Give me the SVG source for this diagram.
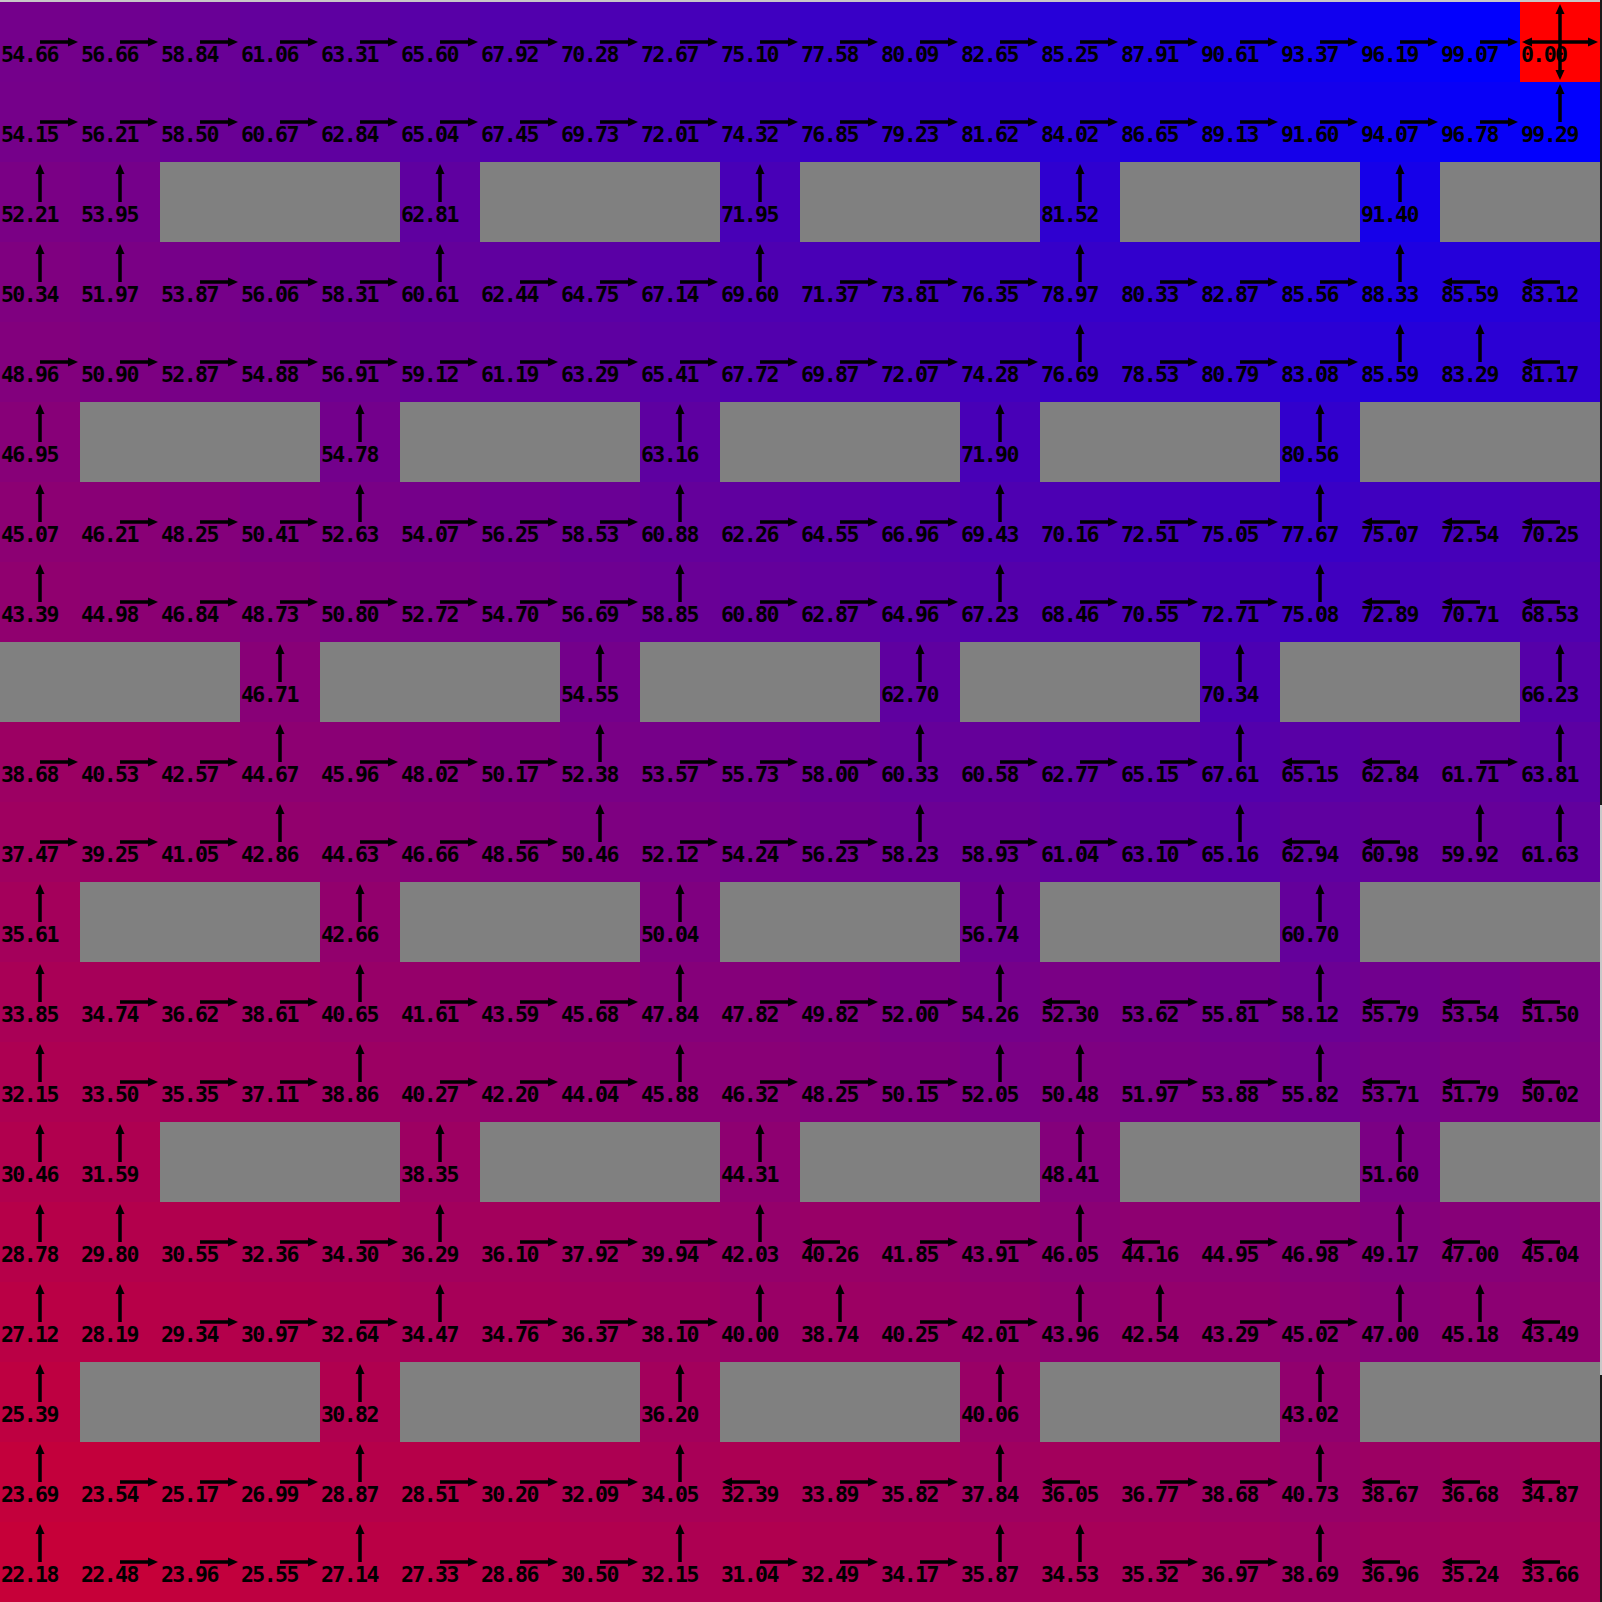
<svg xmlns="http://www.w3.org/2000/svg" xmlns:xlink="http://www.w3.org/1999/xlink" width="1602" height="1602" viewBox="0 0 1602 1602">
<style>
.c rect{fill:#00f;width:80px;height:80px}
text{font-family:"DejaVu Sans Mono","Liberation Mono",monospace;font-weight:bold;font-size:21.5px;letter-spacing:-1.6px;fill:#000}
.w{fill:#808080}
</style>
<defs>
<g id="R"><line x1="0" y1="0" x2="30" y2="0" stroke="#000" stroke-width="3.5"/><path d="M38,0L28,-4.5L28,4.5Z"/></g>
<g id="L"><line x1="0" y1="0" x2="-30" y2="0" stroke="#000" stroke-width="3.5"/><path d="M-38,0L-28,-4.5L-28,4.5Z"/></g>
<g id="U"><line x1="0" y1="0" x2="0" y2="-30" stroke="#000" stroke-width="3.5"/><path d="M0,-38L-4.5,-28L4.5,-28Z"/></g>
<g id="D"><line x1="0" y1="0" x2="0" y2="30" stroke="#000" stroke-width="3.5"/><path d="M0,38L-4.5,28L4.5,28Z"/></g>
</defs>
<rect x="0" y="0" width="1602" height="1602" fill="#c8c8c8"/>
<rect x="1600" y="0" width="2" height="805" fill="#1a1a1a"/>
<rect x="1600" y="1375" width="2" height="227" fill="#1a1a1a"/>
<rect x="0" y="2" width="1600" height="1600" fill="#f00"/>
<g class="c" id="cells">
<g id="n0-0"><rect x="0" y="2" fill-opacity=".5466"/><text x="1" y="62">54.66</text></g>
<g id="n0-1"><rect x="80" y="2" fill-opacity=".5666"/><text x="81" y="62">56.66</text></g>
<g id="n0-2"><rect x="160" y="2" fill-opacity=".5884"/><text x="161" y="62">58.84</text></g>
<g id="n0-3"><rect x="240" y="2" fill-opacity=".6106"/><text x="241" y="62">61.06</text></g>
<g id="n0-4"><rect x="320" y="2" fill-opacity=".6331"/><text x="321" y="62">63.31</text></g>
<g id="n0-5"><rect x="400" y="2" fill-opacity=".6560"/><text x="401" y="62">65.60</text></g>
<g id="n0-6"><rect x="480" y="2" fill-opacity=".6792"/><text x="481" y="62">67.92</text></g>
<g id="n0-7"><rect x="560" y="2" fill-opacity=".7028"/><text x="561" y="62">70.28</text></g>
<g id="n0-8"><rect x="640" y="2" fill-opacity=".7267"/><text x="641" y="62">72.67</text></g>
<g id="n0-9"><rect x="720" y="2" fill-opacity=".7510"/><text x="721" y="62">75.10</text></g>
<g id="n0-10"><rect x="800" y="2" fill-opacity=".7758"/><text x="801" y="62">77.58</text></g>
<g id="n0-11"><rect x="880" y="2" fill-opacity=".8009"/><text x="881" y="62">80.09</text></g>
<g id="n0-12"><rect x="960" y="2" fill-opacity=".8265"/><text x="961" y="62">82.65</text></g>
<g id="n0-13"><rect x="1040" y="2" fill-opacity=".8525"/><text x="1041" y="62">85.25</text></g>
<g id="n0-14"><rect x="1120" y="2" fill-opacity=".8791"/><text x="1121" y="62">87.91</text></g>
<g id="n0-15"><rect x="1200" y="2" fill-opacity=".9061"/><text x="1201" y="62">90.61</text></g>
<g id="n0-16"><rect x="1280" y="2" fill-opacity=".9337"/><text x="1281" y="62">93.37</text></g>
<g id="n0-17"><rect x="1360" y="2" fill-opacity=".9619"/><text x="1361" y="62">96.19</text></g>
<g id="n0-18"><rect x="1440" y="2" fill-opacity=".9907"/><text x="1441" y="62">99.07</text></g>
<g id="n0-19"><rect x="1520" y="2" fill-opacity="0"/><text x="1521" y="62">0.00</text></g>

<g id="n1-0"><rect x="0" y="82" fill-opacity=".5415"/><text x="1" y="142">54.15</text></g>
<g id="n1-1"><rect x="80" y="82" fill-opacity=".5621"/><text x="81" y="142">56.21</text></g>
<g id="n1-2"><rect x="160" y="82" fill-opacity=".5850"/><text x="161" y="142">58.50</text></g>
<g id="n1-3"><rect x="240" y="82" fill-opacity=".6067"/><text x="241" y="142">60.67</text></g>
<g id="n1-4"><rect x="320" y="82" fill-opacity=".6284"/><text x="321" y="142">62.84</text></g>
<g id="n1-5"><rect x="400" y="82" fill-opacity=".6504"/><text x="401" y="142">65.04</text></g>
<g id="n1-6"><rect x="480" y="82" fill-opacity=".6745"/><text x="481" y="142">67.45</text></g>
<g id="n1-7"><rect x="560" y="82" fill-opacity=".6973"/><text x="561" y="142">69.73</text></g>
<g id="n1-8"><rect x="640" y="82" fill-opacity=".7201"/><text x="641" y="142">72.01</text></g>
<g id="n1-9"><rect x="720" y="82" fill-opacity=".7432"/><text x="721" y="142">74.32</text></g>
<g id="n1-10"><rect x="800" y="82" fill-opacity=".7685"/><text x="801" y="142">76.85</text></g>
<g id="n1-11"><rect x="880" y="82" fill-opacity=".7923"/><text x="881" y="142">79.23</text></g>
<g id="n1-12"><rect x="960" y="82" fill-opacity=".8162"/><text x="961" y="142">81.62</text></g>
<g id="n1-13"><rect x="1040" y="82" fill-opacity=".8402"/><text x="1041" y="142">84.02</text></g>
<g id="n1-14"><rect x="1120" y="82" fill-opacity=".8665"/><text x="1121" y="142">86.65</text></g>
<g id="n1-15"><rect x="1200" y="82" fill-opacity=".8913"/><text x="1201" y="142">89.13</text></g>
<g id="n1-16"><rect x="1280" y="82" fill-opacity=".9160"/><text x="1281" y="142">91.60</text></g>
<g id="n1-17"><rect x="1360" y="82" fill-opacity=".9407"/><text x="1361" y="142">94.07</text></g>
<g id="n1-18"><rect x="1440" y="82" fill-opacity=".9678"/><text x="1441" y="142">96.78</text></g>
<g id="n1-19"><rect x="1520" y="82" fill-opacity=".9929"/><text x="1521" y="142">99.29</text></g>

<g id="n2-0"><rect x="0" y="162" fill-opacity=".5221"/><text x="1" y="222">52.21</text></g>
<g id="n2-1"><rect x="80" y="162" fill-opacity=".5395"/><text x="81" y="222">53.95</text></g>
<g id="n2-5"><rect x="400" y="162" fill-opacity=".6281"/><text x="401" y="222">62.81</text></g>
<g id="n2-9"><rect x="720" y="162" fill-opacity=".7195"/><text x="721" y="222">71.95</text></g>
<g id="n2-13"><rect x="1040" y="162" fill-opacity=".8152"/><text x="1041" y="222">81.52</text></g>
<g id="n2-17"><rect x="1360" y="162" fill-opacity=".9140"/><text x="1361" y="222">91.40</text></g>

<g id="n3-0"><rect x="0" y="242" fill-opacity=".5034"/><text x="1" y="302">50.34</text></g>
<g id="n3-1"><rect x="80" y="242" fill-opacity=".5197"/><text x="81" y="302">51.97</text></g>
<g id="n3-2"><rect x="160" y="242" fill-opacity=".5387"/><text x="161" y="302">53.87</text></g>
<g id="n3-3"><rect x="240" y="242" fill-opacity=".5606"/><text x="241" y="302">56.06</text></g>
<g id="n3-4"><rect x="320" y="242" fill-opacity=".5831"/><text x="321" y="302">58.31</text></g>
<g id="n3-5"><rect x="400" y="242" fill-opacity=".6061"/><text x="401" y="302">60.61</text></g>
<g id="n3-6"><rect x="480" y="242" fill-opacity=".6244"/><text x="481" y="302">62.44</text></g>
<g id="n3-7"><rect x="560" y="242" fill-opacity=".6475"/><text x="561" y="302">64.75</text></g>
<g id="n3-8"><rect x="640" y="242" fill-opacity=".6714"/><text x="641" y="302">67.14</text></g>
<g id="n3-9"><rect x="720" y="242" fill-opacity=".6960"/><text x="721" y="302">69.60</text></g>
<g id="n3-10"><rect x="800" y="242" fill-opacity=".7137"/><text x="801" y="302">71.37</text></g>
<g id="n3-11"><rect x="880" y="242" fill-opacity=".7381"/><text x="881" y="302">73.81</text></g>
<g id="n3-12"><rect x="960" y="242" fill-opacity=".7635"/><text x="961" y="302">76.35</text></g>
<g id="n3-13"><rect x="1040" y="242" fill-opacity=".7897"/><text x="1041" y="302">78.97</text></g>
<g id="n3-14"><rect x="1120" y="242" fill-opacity=".8033"/><text x="1121" y="302">80.33</text></g>
<g id="n3-15"><rect x="1200" y="242" fill-opacity=".8287"/><text x="1201" y="302">82.87</text></g>
<g id="n3-16"><rect x="1280" y="242" fill-opacity=".8556"/><text x="1281" y="302">85.56</text></g>
<g id="n3-17"><rect x="1360" y="242" fill-opacity=".8833"/><text x="1361" y="302">88.33</text></g>
<g id="n3-18"><rect x="1440" y="242" fill-opacity=".8559"/><text x="1441" y="302">85.59</text></g>
<g id="n3-19"><rect x="1520" y="242" fill-opacity=".8312"/><text x="1521" y="302">83.12</text></g>

<g id="n4-0"><rect x="0" y="322" fill-opacity=".4896"/><text x="1" y="382">48.96</text></g>
<g id="n4-1"><rect x="80" y="322" fill-opacity=".5090"/><text x="81" y="382">50.90</text></g>
<g id="n4-2"><rect x="160" y="322" fill-opacity=".5287"/><text x="161" y="382">52.87</text></g>
<g id="n4-3"><rect x="240" y="322" fill-opacity=".5488"/><text x="241" y="382">54.88</text></g>
<g id="n4-4"><rect x="320" y="322" fill-opacity=".5691"/><text x="321" y="382">56.91</text></g>
<g id="n4-5"><rect x="400" y="322" fill-opacity=".5912"/><text x="401" y="382">59.12</text></g>
<g id="n4-6"><rect x="480" y="322" fill-opacity=".6119"/><text x="481" y="382">61.19</text></g>
<g id="n4-7"><rect x="560" y="322" fill-opacity=".6329"/><text x="561" y="382">63.29</text></g>
<g id="n4-8"><rect x="640" y="322" fill-opacity=".6541"/><text x="641" y="382">65.41</text></g>
<g id="n4-9"><rect x="720" y="322" fill-opacity=".6772"/><text x="721" y="382">67.72</text></g>
<g id="n4-10"><rect x="800" y="322" fill-opacity=".6987"/><text x="801" y="382">69.87</text></g>
<g id="n4-11"><rect x="880" y="322" fill-opacity=".7207"/><text x="881" y="382">72.07</text></g>
<g id="n4-12"><rect x="960" y="322" fill-opacity=".7428"/><text x="961" y="382">74.28</text></g>
<g id="n4-13"><rect x="1040" y="322" fill-opacity=".7669"/><text x="1041" y="382">76.69</text></g>
<g id="n4-14"><rect x="1120" y="322" fill-opacity=".7853"/><text x="1121" y="382">78.53</text></g>
<g id="n4-15"><rect x="1200" y="322" fill-opacity=".8079"/><text x="1201" y="382">80.79</text></g>
<g id="n4-16"><rect x="1280" y="322" fill-opacity=".8308"/><text x="1281" y="382">83.08</text></g>
<g id="n4-17"><rect x="1360" y="322" fill-opacity=".8559"/><text x="1361" y="382">85.59</text></g>
<g id="n4-18"><rect x="1440" y="322" fill-opacity=".8329"/><text x="1441" y="382">83.29</text></g>
<g id="n4-19"><rect x="1520" y="322" fill-opacity=".8117"/><text x="1521" y="382">81.17</text></g>

<g id="n5-0"><rect x="0" y="402" fill-opacity=".4695"/><text x="1" y="462">46.95</text></g>
<g id="n5-4"><rect x="320" y="402" fill-opacity=".5478"/><text x="321" y="462">54.78</text></g>
<g id="n5-8"><rect x="640" y="402" fill-opacity=".6316"/><text x="641" y="462">63.16</text></g>
<g id="n5-12"><rect x="960" y="402" fill-opacity=".7190"/><text x="961" y="462">71.90</text></g>
<g id="n5-16"><rect x="1280" y="402" fill-opacity=".8056"/><text x="1281" y="462">80.56</text></g>

<g id="n6-0"><rect x="0" y="482" fill-opacity=".4507"/><text x="1" y="542">45.07</text></g>
<g id="n6-1"><rect x="80" y="482" fill-opacity=".4621"/><text x="81" y="542">46.21</text></g>
<g id="n6-2"><rect x="160" y="482" fill-opacity=".4825"/><text x="161" y="542">48.25</text></g>
<g id="n6-3"><rect x="240" y="482" fill-opacity=".5041"/><text x="241" y="542">50.41</text></g>
<g id="n6-4"><rect x="320" y="482" fill-opacity=".5263"/><text x="321" y="542">52.63</text></g>
<g id="n6-5"><rect x="400" y="482" fill-opacity=".5407"/><text x="401" y="542">54.07</text></g>
<g id="n6-6"><rect x="480" y="482" fill-opacity=".5625"/><text x="481" y="542">56.25</text></g>
<g id="n6-7"><rect x="560" y="482" fill-opacity=".5853"/><text x="561" y="542">58.53</text></g>
<g id="n6-8"><rect x="640" y="482" fill-opacity=".6088"/><text x="641" y="542">60.88</text></g>
<g id="n6-9"><rect x="720" y="482" fill-opacity=".6226"/><text x="721" y="542">62.26</text></g>
<g id="n6-10"><rect x="800" y="482" fill-opacity=".6455"/><text x="801" y="542">64.55</text></g>
<g id="n6-11"><rect x="880" y="482" fill-opacity=".6696"/><text x="881" y="542">66.96</text></g>
<g id="n6-12"><rect x="960" y="482" fill-opacity=".6943"/><text x="961" y="542">69.43</text></g>
<g id="n6-13"><rect x="1040" y="482" fill-opacity=".7016"/><text x="1041" y="542">70.16</text></g>
<g id="n6-14"><rect x="1120" y="482" fill-opacity=".7251"/><text x="1121" y="542">72.51</text></g>
<g id="n6-15"><rect x="1200" y="482" fill-opacity=".7505"/><text x="1201" y="542">75.05</text></g>
<g id="n6-16"><rect x="1280" y="482" fill-opacity=".7767"/><text x="1281" y="542">77.67</text></g>
<g id="n6-17"><rect x="1360" y="482" fill-opacity=".7507"/><text x="1361" y="542">75.07</text></g>
<g id="n6-18"><rect x="1440" y="482" fill-opacity=".7254"/><text x="1441" y="542">72.54</text></g>
<g id="n6-19"><rect x="1520" y="482" fill-opacity=".7025"/><text x="1521" y="542">70.25</text></g>

<g id="n7-0"><rect x="0" y="562" fill-opacity=".4339"/><text x="1" y="622">43.39</text></g>
<g id="n7-1"><rect x="80" y="562" fill-opacity=".4498"/><text x="81" y="622">44.98</text></g>
<g id="n7-2"><rect x="160" y="562" fill-opacity=".4684"/><text x="161" y="622">46.84</text></g>
<g id="n7-3"><rect x="240" y="562" fill-opacity=".4873"/><text x="241" y="622">48.73</text></g>
<g id="n7-4"><rect x="320" y="562" fill-opacity=".5080"/><text x="321" y="622">50.80</text></g>
<g id="n7-5"><rect x="400" y="562" fill-opacity=".5272"/><text x="401" y="622">52.72</text></g>
<g id="n7-6"><rect x="480" y="562" fill-opacity=".5470"/><text x="481" y="622">54.70</text></g>
<g id="n7-7"><rect x="560" y="562" fill-opacity=".5669"/><text x="561" y="622">56.69</text></g>
<g id="n7-8"><rect x="640" y="562" fill-opacity=".5885"/><text x="641" y="622">58.85</text></g>
<g id="n7-9"><rect x="720" y="562" fill-opacity=".6080"/><text x="721" y="622">60.80</text></g>
<g id="n7-10"><rect x="800" y="562" fill-opacity=".6287"/><text x="801" y="622">62.87</text></g>
<g id="n7-11"><rect x="880" y="562" fill-opacity=".6496"/><text x="881" y="622">64.96</text></g>
<g id="n7-12"><rect x="960" y="562" fill-opacity=".6723"/><text x="961" y="622">67.23</text></g>
<g id="n7-13"><rect x="1040" y="562" fill-opacity=".6846"/><text x="1041" y="622">68.46</text></g>
<g id="n7-14"><rect x="1120" y="562" fill-opacity=".7055"/><text x="1121" y="622">70.55</text></g>
<g id="n7-15"><rect x="1200" y="562" fill-opacity=".7271"/><text x="1201" y="622">72.71</text></g>
<g id="n7-16"><rect x="1280" y="562" fill-opacity=".7508"/><text x="1281" y="622">75.08</text></g>
<g id="n7-17"><rect x="1360" y="562" fill-opacity=".7289"/><text x="1361" y="622">72.89</text></g>
<g id="n7-18"><rect x="1440" y="562" fill-opacity=".7071"/><text x="1441" y="622">70.71</text></g>
<g id="n7-19"><rect x="1520" y="562" fill-opacity=".6853"/><text x="1521" y="622">68.53</text></g>

<g id="n8-3"><rect x="240" y="642" fill-opacity=".4671"/><text x="241" y="702">46.71</text></g>
<g id="n8-7"><rect x="560" y="642" fill-opacity=".5455"/><text x="561" y="702">54.55</text></g>
<g id="n8-11"><rect x="880" y="642" fill-opacity=".6270"/><text x="881" y="702">62.70</text></g>
<g id="n8-15"><rect x="1200" y="642" fill-opacity=".7034"/><text x="1201" y="702">70.34</text></g>
<g id="n8-19"><rect x="1520" y="642" fill-opacity=".6623"/><text x="1521" y="702">66.23</text></g>

<g id="n9-0"><rect x="0" y="722" fill-opacity=".3868"/><text x="1" y="782">38.68</text></g>
<g id="n9-1"><rect x="80" y="722" fill-opacity=".4053"/><text x="81" y="782">40.53</text></g>
<g id="n9-2"><rect x="160" y="722" fill-opacity=".4257"/><text x="161" y="782">42.57</text></g>
<g id="n9-3"><rect x="240" y="722" fill-opacity=".4467"/><text x="241" y="782">44.67</text></g>
<g id="n9-4"><rect x="320" y="722" fill-opacity=".4596"/><text x="321" y="782">45.96</text></g>
<g id="n9-5"><rect x="400" y="722" fill-opacity=".4802"/><text x="401" y="782">48.02</text></g>
<g id="n9-6"><rect x="480" y="722" fill-opacity=".5017"/><text x="481" y="782">50.17</text></g>
<g id="n9-7"><rect x="560" y="722" fill-opacity=".5238"/><text x="561" y="782">52.38</text></g>
<g id="n9-8"><rect x="640" y="722" fill-opacity=".5357"/><text x="641" y="782">53.57</text></g>
<g id="n9-9"><rect x="720" y="722" fill-opacity=".5573"/><text x="721" y="782">55.73</text></g>
<g id="n9-10"><rect x="800" y="722" fill-opacity=".5800"/><text x="801" y="782">58.00</text></g>
<g id="n9-11"><rect x="880" y="722" fill-opacity=".6033"/><text x="881" y="782">60.33</text></g>
<g id="n9-12"><rect x="960" y="722" fill-opacity=".6058"/><text x="961" y="782">60.58</text></g>
<g id="n9-13"><rect x="1040" y="722" fill-opacity=".6277"/><text x="1041" y="782">62.77</text></g>
<g id="n9-14"><rect x="1120" y="722" fill-opacity=".6515"/><text x="1121" y="782">65.15</text></g>
<g id="n9-15"><rect x="1200" y="722" fill-opacity=".6761"/><text x="1201" y="782">67.61</text></g>
<g id="n9-16"><rect x="1280" y="722" fill-opacity=".6515"/><text x="1281" y="782">65.15</text></g>
<g id="n9-17"><rect x="1360" y="722" fill-opacity=".6284"/><text x="1361" y="782">62.84</text></g>
<g id="n9-18"><rect x="1440" y="722" fill-opacity=".6171"/><text x="1441" y="782">61.71</text></g>
<g id="n9-19"><rect x="1520" y="722" fill-opacity=".6381"/><text x="1521" y="782">63.81</text></g>

<g id="n10-0"><rect x="0" y="802" fill-opacity=".3747"/><text x="1" y="862">37.47</text></g>
<g id="n10-1"><rect x="80" y="802" fill-opacity=".3925"/><text x="81" y="862">39.25</text></g>
<g id="n10-2"><rect x="160" y="802" fill-opacity=".4105"/><text x="161" y="862">41.05</text></g>
<g id="n10-3"><rect x="240" y="802" fill-opacity=".4286"/><text x="241" y="862">42.86</text></g>
<g id="n10-4"><rect x="320" y="802" fill-opacity=".4463"/><text x="321" y="862">44.63</text></g>
<g id="n10-5"><rect x="400" y="802" fill-opacity=".4666"/><text x="401" y="862">46.66</text></g>
<g id="n10-6"><rect x="480" y="802" fill-opacity=".4856"/><text x="481" y="862">48.56</text></g>
<g id="n10-7"><rect x="560" y="802" fill-opacity=".5046"/><text x="561" y="862">50.46</text></g>
<g id="n10-8"><rect x="640" y="802" fill-opacity=".5212"/><text x="641" y="862">52.12</text></g>
<g id="n10-9"><rect x="720" y="802" fill-opacity=".5424"/><text x="721" y="862">54.24</text></g>
<g id="n10-10"><rect x="800" y="802" fill-opacity=".5623"/><text x="801" y="862">56.23</text></g>
<g id="n10-11"><rect x="880" y="802" fill-opacity=".5823"/><text x="881" y="862">58.23</text></g>
<g id="n10-12"><rect x="960" y="802" fill-opacity=".5893"/><text x="961" y="862">58.93</text></g>
<g id="n10-13"><rect x="1040" y="802" fill-opacity=".6104"/><text x="1041" y="862">61.04</text></g>
<g id="n10-14"><rect x="1120" y="802" fill-opacity=".6310"/><text x="1121" y="862">63.10</text></g>
<g id="n10-15"><rect x="1200" y="802" fill-opacity=".6516"/><text x="1201" y="862">65.16</text></g>
<g id="n10-16"><rect x="1280" y="802" fill-opacity=".6294"/><text x="1281" y="862">62.94</text></g>
<g id="n10-17"><rect x="1360" y="802" fill-opacity=".6098"/><text x="1361" y="862">60.98</text></g>
<g id="n10-18"><rect x="1440" y="802" fill-opacity=".5992"/><text x="1441" y="862">59.92</text></g>
<g id="n10-19"><rect x="1520" y="802" fill-opacity=".6163"/><text x="1521" y="862">61.63</text></g>

<g id="n11-0"><rect x="0" y="882" fill-opacity=".3561"/><text x="1" y="942">35.61</text></g>
<g id="n11-4"><rect x="320" y="882" fill-opacity=".4266"/><text x="321" y="942">42.66</text></g>
<g id="n11-8"><rect x="640" y="882" fill-opacity=".5004"/><text x="641" y="942">50.04</text></g>
<g id="n11-12"><rect x="960" y="882" fill-opacity=".5674"/><text x="961" y="942">56.74</text></g>
<g id="n11-16"><rect x="1280" y="882" fill-opacity=".6070"/><text x="1281" y="942">60.70</text></g>

<g id="n12-0"><rect x="0" y="962" fill-opacity=".3385"/><text x="1" y="1022">33.85</text></g>
<g id="n12-1"><rect x="80" y="962" fill-opacity=".3474"/><text x="81" y="1022">34.74</text></g>
<g id="n12-2"><rect x="160" y="962" fill-opacity=".3662"/><text x="161" y="1022">36.62</text></g>
<g id="n12-3"><rect x="240" y="962" fill-opacity=".3861"/><text x="241" y="1022">38.61</text></g>
<g id="n12-4"><rect x="320" y="962" fill-opacity=".4065"/><text x="321" y="1022">40.65</text></g>
<g id="n12-5"><rect x="400" y="962" fill-opacity=".4161"/><text x="401" y="1022">41.61</text></g>
<g id="n12-6"><rect x="480" y="962" fill-opacity=".4359"/><text x="481" y="1022">43.59</text></g>
<g id="n12-7"><rect x="560" y="962" fill-opacity=".4568"/><text x="561" y="1022">45.68</text></g>
<g id="n12-8"><rect x="640" y="962" fill-opacity=".4784"/><text x="641" y="1022">47.84</text></g>
<g id="n12-9"><rect x="720" y="962" fill-opacity=".4782"/><text x="721" y="1022">47.82</text></g>
<g id="n12-10"><rect x="800" y="962" fill-opacity=".4982"/><text x="801" y="1022">49.82</text></g>
<g id="n12-11"><rect x="880" y="962" fill-opacity=".5200"/><text x="881" y="1022">52.00</text></g>
<g id="n12-12"><rect x="960" y="962" fill-opacity=".5426"/><text x="961" y="1022">54.26</text></g>
<g id="n12-13"><rect x="1040" y="962" fill-opacity=".5230"/><text x="1041" y="1022">52.30</text></g>
<g id="n12-14"><rect x="1120" y="962" fill-opacity=".5362"/><text x="1121" y="1022">53.62</text></g>
<g id="n12-15"><rect x="1200" y="962" fill-opacity=".5581"/><text x="1201" y="1022">55.81</text></g>
<g id="n12-16"><rect x="1280" y="962" fill-opacity=".5812"/><text x="1281" y="1022">58.12</text></g>
<g id="n12-17"><rect x="1360" y="962" fill-opacity=".5579"/><text x="1361" y="1022">55.79</text></g>
<g id="n12-18"><rect x="1440" y="962" fill-opacity=".5354"/><text x="1441" y="1022">53.54</text></g>
<g id="n12-19"><rect x="1520" y="962" fill-opacity=".5150"/><text x="1521" y="1022">51.50</text></g>

<g id="n13-0"><rect x="0" y="1042" fill-opacity=".3215"/><text x="1" y="1102">32.15</text></g>
<g id="n13-1"><rect x="80" y="1042" fill-opacity=".3350"/><text x="81" y="1102">33.50</text></g>
<g id="n13-2"><rect x="160" y="1042" fill-opacity=".3535"/><text x="161" y="1102">35.35</text></g>
<g id="n13-3"><rect x="240" y="1042" fill-opacity=".3711"/><text x="241" y="1102">37.11</text></g>
<g id="n13-4"><rect x="320" y="1042" fill-opacity=".3886"/><text x="321" y="1102">38.86</text></g>
<g id="n13-5"><rect x="400" y="1042" fill-opacity=".4027"/><text x="401" y="1102">40.27</text></g>
<g id="n13-6"><rect x="480" y="1042" fill-opacity=".4220"/><text x="481" y="1102">42.20</text></g>
<g id="n13-7"><rect x="560" y="1042" fill-opacity=".4404"/><text x="561" y="1102">44.04</text></g>
<g id="n13-8"><rect x="640" y="1042" fill-opacity=".4588"/><text x="641" y="1102">45.88</text></g>
<g id="n13-9"><rect x="720" y="1042" fill-opacity=".4632"/><text x="721" y="1102">46.32</text></g>
<g id="n13-10"><rect x="800" y="1042" fill-opacity=".4825"/><text x="801" y="1102">48.25</text></g>
<g id="n13-11"><rect x="880" y="1042" fill-opacity=".5015"/><text x="881" y="1102">50.15</text></g>
<g id="n13-12"><rect x="960" y="1042" fill-opacity=".5205"/><text x="961" y="1102">52.05</text></g>
<g id="n13-13"><rect x="1040" y="1042" fill-opacity=".5048"/><text x="1041" y="1102">50.48</text></g>
<g id="n13-14"><rect x="1120" y="1042" fill-opacity=".5197"/><text x="1121" y="1102">51.97</text></g>
<g id="n13-15"><rect x="1200" y="1042" fill-opacity=".5388"/><text x="1201" y="1102">53.88</text></g>
<g id="n13-16"><rect x="1280" y="1042" fill-opacity=".5582"/><text x="1281" y="1102">55.82</text></g>
<g id="n13-17"><rect x="1360" y="1042" fill-opacity=".5371"/><text x="1361" y="1102">53.71</text></g>
<g id="n13-18"><rect x="1440" y="1042" fill-opacity=".5179"/><text x="1441" y="1102">51.79</text></g>
<g id="n13-19"><rect x="1520" y="1042" fill-opacity=".5002"/><text x="1521" y="1102">50.02</text></g>

<g id="n14-0"><rect x="0" y="1122" fill-opacity=".3046"/><text x="1" y="1182">30.46</text></g>
<g id="n14-1"><rect x="80" y="1122" fill-opacity=".3159"/><text x="81" y="1182">31.59</text></g>
<g id="n14-5"><rect x="400" y="1122" fill-opacity=".3835"/><text x="401" y="1182">38.35</text></g>
<g id="n14-9"><rect x="720" y="1122" fill-opacity=".4431"/><text x="721" y="1182">44.31</text></g>
<g id="n14-13"><rect x="1040" y="1122" fill-opacity=".4841"/><text x="1041" y="1182">48.41</text></g>
<g id="n14-17"><rect x="1360" y="1122" fill-opacity=".5160"/><text x="1361" y="1182">51.60</text></g>

<g id="n15-0"><rect x="0" y="1202" fill-opacity=".2878"/><text x="1" y="1262">28.78</text></g>
<g id="n15-1"><rect x="80" y="1202" fill-opacity=".2980"/><text x="81" y="1262">29.80</text></g>
<g id="n15-2"><rect x="160" y="1202" fill-opacity=".3055"/><text x="161" y="1262">30.55</text></g>
<g id="n15-3"><rect x="240" y="1202" fill-opacity=".3236"/><text x="241" y="1262">32.36</text></g>
<g id="n15-4"><rect x="320" y="1202" fill-opacity=".3430"/><text x="321" y="1262">34.30</text></g>
<g id="n15-5"><rect x="400" y="1202" fill-opacity=".3629"/><text x="401" y="1262">36.29</text></g>
<g id="n15-6"><rect x="480" y="1202" fill-opacity=".3610"/><text x="481" y="1262">36.10</text></g>
<g id="n15-7"><rect x="560" y="1202" fill-opacity=".3792"/><text x="561" y="1262">37.92</text></g>
<g id="n15-8"><rect x="640" y="1202" fill-opacity=".3994"/><text x="641" y="1262">39.94</text></g>
<g id="n15-9"><rect x="720" y="1202" fill-opacity=".4203"/><text x="721" y="1262">42.03</text></g>
<g id="n15-10"><rect x="800" y="1202" fill-opacity=".4026"/><text x="801" y="1262">40.26</text></g>
<g id="n15-11"><rect x="880" y="1202" fill-opacity=".4185"/><text x="881" y="1262">41.85</text></g>
<g id="n15-12"><rect x="960" y="1202" fill-opacity=".4391"/><text x="961" y="1262">43.91</text></g>
<g id="n15-13"><rect x="1040" y="1202" fill-opacity=".4605"/><text x="1041" y="1262">46.05</text></g>
<g id="n15-14"><rect x="1120" y="1202" fill-opacity=".4416"/><text x="1121" y="1262">44.16</text></g>
<g id="n15-15"><rect x="1200" y="1202" fill-opacity=".4495"/><text x="1201" y="1262">44.95</text></g>
<g id="n15-16"><rect x="1280" y="1202" fill-opacity=".4698"/><text x="1281" y="1262">46.98</text></g>
<g id="n15-17"><rect x="1360" y="1202" fill-opacity=".4917"/><text x="1361" y="1262">49.17</text></g>
<g id="n15-18"><rect x="1440" y="1202" fill-opacity=".4700"/><text x="1441" y="1262">47.00</text></g>
<g id="n15-19"><rect x="1520" y="1202" fill-opacity=".4504"/><text x="1521" y="1262">45.04</text></g>

<g id="n16-0"><rect x="0" y="1282" fill-opacity=".2712"/><text x="1" y="1342">27.12</text></g>
<g id="n16-1"><rect x="80" y="1282" fill-opacity=".2819"/><text x="81" y="1342">28.19</text></g>
<g id="n16-2"><rect x="160" y="1282" fill-opacity=".2934"/><text x="161" y="1342">29.34</text></g>
<g id="n16-3"><rect x="240" y="1282" fill-opacity=".3097"/><text x="241" y="1342">30.97</text></g>
<g id="n16-4"><rect x="320" y="1282" fill-opacity=".3264"/><text x="321" y="1342">32.64</text></g>
<g id="n16-5"><rect x="400" y="1282" fill-opacity=".3447"/><text x="401" y="1342">34.47</text></g>
<g id="n16-6"><rect x="480" y="1282" fill-opacity=".3476"/><text x="481" y="1342">34.76</text></g>
<g id="n16-7"><rect x="560" y="1282" fill-opacity=".3637"/><text x="561" y="1342">36.37</text></g>
<g id="n16-8"><rect x="640" y="1282" fill-opacity=".3810"/><text x="641" y="1342">38.10</text></g>
<g id="n16-9"><rect x="720" y="1282" fill-opacity=".4000"/><text x="721" y="1342">40.00</text></g>
<g id="n16-10"><rect x="800" y="1282" fill-opacity=".3874"/><text x="801" y="1342">38.74</text></g>
<g id="n16-11"><rect x="880" y="1282" fill-opacity=".4025"/><text x="881" y="1342">40.25</text></g>
<g id="n16-12"><rect x="960" y="1282" fill-opacity=".4201"/><text x="961" y="1342">42.01</text></g>
<g id="n16-13"><rect x="1040" y="1282" fill-opacity=".4396"/><text x="1041" y="1342">43.96</text></g>
<g id="n16-14"><rect x="1120" y="1282" fill-opacity=".4254"/><text x="1121" y="1342">42.54</text></g>
<g id="n16-15"><rect x="1200" y="1282" fill-opacity=".4329"/><text x="1201" y="1342">43.29</text></g>
<g id="n16-16"><rect x="1280" y="1282" fill-opacity=".4502"/><text x="1281" y="1342">45.02</text></g>
<g id="n16-17"><rect x="1360" y="1282" fill-opacity=".4700"/><text x="1361" y="1342">47.00</text></g>
<g id="n16-18"><rect x="1440" y="1282" fill-opacity=".4518"/><text x="1441" y="1342">45.18</text></g>
<g id="n16-19"><rect x="1520" y="1282" fill-opacity=".4349"/><text x="1521" y="1342">43.49</text></g>

<g id="n17-0"><rect x="0" y="1362" fill-opacity=".2539"/><text x="1" y="1422">25.39</text></g>
<g id="n17-4"><rect x="320" y="1362" fill-opacity=".3082"/><text x="321" y="1422">30.82</text></g>
<g id="n17-8"><rect x="640" y="1362" fill-opacity=".3620"/><text x="641" y="1422">36.20</text></g>
<g id="n17-12"><rect x="960" y="1362" fill-opacity=".4006"/><text x="961" y="1422">40.06</text></g>
<g id="n17-16"><rect x="1280" y="1362" fill-opacity=".4302"/><text x="1281" y="1422">43.02</text></g>

<g id="n18-0"><rect x="0" y="1442" fill-opacity=".2369"/><text x="1" y="1502">23.69</text></g>
<g id="n18-1"><rect x="80" y="1442" fill-opacity=".2354"/><text x="81" y="1502">23.54</text></g>
<g id="n18-2"><rect x="160" y="1442" fill-opacity=".2517"/><text x="161" y="1502">25.17</text></g>
<g id="n18-3"><rect x="240" y="1442" fill-opacity=".2699"/><text x="241" y="1502">26.99</text></g>
<g id="n18-4"><rect x="320" y="1442" fill-opacity=".2887"/><text x="321" y="1502">28.87</text></g>
<g id="n18-5"><rect x="400" y="1442" fill-opacity=".2851"/><text x="401" y="1502">28.51</text></g>
<g id="n18-6"><rect x="480" y="1442" fill-opacity=".3020"/><text x="481" y="1502">30.20</text></g>
<g id="n18-7"><rect x="560" y="1442" fill-opacity=".3209"/><text x="561" y="1502">32.09</text></g>
<g id="n18-8"><rect x="640" y="1442" fill-opacity=".3405"/><text x="641" y="1502">34.05</text></g>
<g id="n18-9"><rect x="720" y="1442" fill-opacity=".3239"/><text x="721" y="1502">32.39</text></g>
<g id="n18-10"><rect x="800" y="1442" fill-opacity=".3389"/><text x="801" y="1502">33.89</text></g>
<g id="n18-11"><rect x="880" y="1442" fill-opacity=".3582"/><text x="881" y="1502">35.82</text></g>
<g id="n18-12"><rect x="960" y="1442" fill-opacity=".3784"/><text x="961" y="1502">37.84</text></g>
<g id="n18-13"><rect x="1040" y="1442" fill-opacity=".3605"/><text x="1041" y="1502">36.05</text></g>
<g id="n18-14"><rect x="1120" y="1442" fill-opacity=".3677"/><text x="1121" y="1502">36.77</text></g>
<g id="n18-15"><rect x="1200" y="1442" fill-opacity=".3868"/><text x="1201" y="1502">38.68</text></g>
<g id="n18-16"><rect x="1280" y="1442" fill-opacity=".4073"/><text x="1281" y="1502">40.73</text></g>
<g id="n18-17"><rect x="1360" y="1442" fill-opacity=".3867"/><text x="1361" y="1502">38.67</text></g>
<g id="n18-18"><rect x="1440" y="1442" fill-opacity=".3668"/><text x="1441" y="1502">36.68</text></g>
<g id="n18-19"><rect x="1520" y="1442" fill-opacity=".3487"/><text x="1521" y="1502">34.87</text></g>

<g id="n19-0"><rect x="0" y="1522" fill-opacity=".2218"/><text x="1" y="1582">22.18</text></g>
<g id="n19-1"><rect x="80" y="1522" fill-opacity=".2248"/><text x="81" y="1582">22.48</text></g>
<g id="n19-2"><rect x="160" y="1522" fill-opacity=".2396"/><text x="161" y="1582">23.96</text></g>
<g id="n19-3"><rect x="240" y="1522" fill-opacity=".2555"/><text x="241" y="1582">25.55</text></g>
<g id="n19-4"><rect x="320" y="1522" fill-opacity=".2714"/><text x="321" y="1582">27.14</text></g>
<g id="n19-5"><rect x="400" y="1522" fill-opacity=".2733"/><text x="401" y="1582">27.33</text></g>
<g id="n19-6"><rect x="480" y="1522" fill-opacity=".2886"/><text x="481" y="1582">28.86</text></g>
<g id="n19-7"><rect x="560" y="1522" fill-opacity=".3050"/><text x="561" y="1582">30.50</text></g>
<g id="n19-8"><rect x="640" y="1522" fill-opacity=".3215"/><text x="641" y="1582">32.15</text></g>
<g id="n19-9"><rect x="720" y="1522" fill-opacity=".3104"/><text x="721" y="1582">31.04</text></g>
<g id="n19-10"><rect x="800" y="1522" fill-opacity=".3249"/><text x="801" y="1582">32.49</text></g>
<g id="n19-11"><rect x="880" y="1522" fill-opacity=".3417"/><text x="881" y="1582">34.17</text></g>
<g id="n19-12"><rect x="960" y="1522" fill-opacity=".3587"/><text x="961" y="1582">35.87</text></g>
<g id="n19-13"><rect x="1040" y="1522" fill-opacity=".3453"/><text x="1041" y="1582">34.53</text></g>
<g id="n19-14"><rect x="1120" y="1522" fill-opacity=".3532"/><text x="1121" y="1582">35.32</text></g>
<g id="n19-15"><rect x="1200" y="1522" fill-opacity=".3697"/><text x="1201" y="1582">36.97</text></g>
<g id="n19-16"><rect x="1280" y="1522" fill-opacity=".3869"/><text x="1281" y="1582">38.69</text></g>
<g id="n19-17"><rect x="1360" y="1522" fill-opacity=".3696"/><text x="1361" y="1582">36.96</text></g>
<g id="n19-18"><rect x="1440" y="1522" fill-opacity=".3524"/><text x="1441" y="1582">35.24</text></g>
<g id="n19-19"><rect x="1520" y="1522" fill-opacity=".3366"/><text x="1521" y="1582">33.66</text></g>
</g>
<g id="walls" class="w">
<rect x="160" y="162" width="240" height="80"/><rect x="480" y="162" width="240" height="80"/><rect x="800" y="162" width="240" height="80"/><rect x="1120" y="162" width="240" height="80"/><rect x="1440" y="162" width="160" height="80"/>
<rect x="80" y="402" width="240" height="80"/><rect x="400" y="402" width="240" height="80"/><rect x="720" y="402" width="240" height="80"/><rect x="1040" y="402" width="240" height="80"/><rect x="1360" y="402" width="240" height="80"/>
<rect x="0" y="642" width="240" height="80"/><rect x="320" y="642" width="240" height="80"/><rect x="640" y="642" width="240" height="80"/><rect x="960" y="642" width="240" height="80"/><rect x="1280" y="642" width="240" height="80"/>
<rect x="80" y="882" width="240" height="80"/><rect x="400" y="882" width="240" height="80"/><rect x="720" y="882" width="240" height="80"/><rect x="1040" y="882" width="240" height="80"/><rect x="1360" y="882" width="240" height="80"/>
<rect x="160" y="1122" width="240" height="80"/><rect x="480" y="1122" width="240" height="80"/><rect x="800" y="1122" width="240" height="80"/><rect x="1120" y="1122" width="240" height="80"/><rect x="1440" y="1122" width="160" height="80"/>
<rect x="80" y="1362" width="240" height="80"/><rect x="400" y="1362" width="240" height="80"/><rect x="720" y="1362" width="240" height="80"/><rect x="1040" y="1362" width="240" height="80"/><rect x="1360" y="1362" width="240" height="80"/>
</g>
<g id="connectors">
<use href="#R" x="40" y="42"/><use href="#R" x="120" y="42"/><use href="#R" x="200" y="42"/><use href="#R" x="280" y="42"/><use href="#R" x="360" y="42"/><use href="#R" x="440" y="42"/><use href="#R" x="520" y="42"/><use href="#R" x="600" y="42"/><use href="#R" x="680" y="42"/><use href="#R" x="760" y="42"/><use href="#R" x="840" y="42"/><use href="#R" x="920" y="42"/><use href="#R" x="1000" y="42"/><use href="#R" x="1080" y="42"/><use href="#R" x="1160" y="42"/><use href="#R" x="1240" y="42"/><use href="#R" x="1320" y="42"/><use href="#R" x="1400" y="42"/><use href="#R" x="1480" y="42"/>
<use href="#R" x="1560" y="42"/><use href="#L" x="1560" y="42"/><use href="#U" x="1560" y="42"/><use href="#D" x="1560" y="42"/>
<use href="#R" x="40" y="122"/><use href="#R" x="120" y="122"/><use href="#R" x="200" y="122"/><use href="#R" x="280" y="122"/><use href="#R" x="360" y="122"/><use href="#R" x="440" y="122"/><use href="#R" x="520" y="122"/><use href="#R" x="600" y="122"/><use href="#R" x="680" y="122"/><use href="#R" x="760" y="122"/><use href="#R" x="840" y="122"/><use href="#R" x="920" y="122"/><use href="#R" x="1000" y="122"/><use href="#R" x="1080" y="122"/><use href="#R" x="1160" y="122"/><use href="#R" x="1240" y="122"/><use href="#R" x="1320" y="122"/><use href="#R" x="1400" y="122"/><use href="#R" x="1480" y="122"/><use href="#U" x="1560" y="122"/>
<use href="#U" x="40" y="202"/><use href="#U" x="120" y="202"/><use href="#U" x="440" y="202"/><use href="#U" x="760" y="202"/><use href="#U" x="1080" y="202"/><use href="#U" x="1400" y="202"/>
<use href="#U" x="40" y="282"/><use href="#U" x="120" y="282"/><use href="#R" x="200" y="282"/><use href="#R" x="280" y="282"/><use href="#R" x="360" y="282"/><use href="#U" x="440" y="282"/><use href="#R" x="520" y="282"/><use href="#R" x="600" y="282"/><use href="#R" x="680" y="282"/><use href="#U" x="760" y="282"/><use href="#R" x="840" y="282"/><use href="#R" x="920" y="282"/><use href="#R" x="1000" y="282"/><use href="#U" x="1080" y="282"/><use href="#R" x="1160" y="282"/><use href="#R" x="1240" y="282"/><use href="#R" x="1320" y="282"/><use href="#U" x="1400" y="282"/><use href="#L" x="1480" y="282"/><use href="#L" x="1560" y="282"/>
<use href="#R" x="40" y="362"/><use href="#R" x="120" y="362"/><use href="#R" x="200" y="362"/><use href="#R" x="280" y="362"/><use href="#R" x="360" y="362"/><use href="#R" x="440" y="362"/><use href="#R" x="520" y="362"/><use href="#R" x="600" y="362"/><use href="#R" x="680" y="362"/><use href="#R" x="760" y="362"/><use href="#R" x="840" y="362"/><use href="#R" x="920" y="362"/><use href="#R" x="1000" y="362"/><use href="#U" x="1080" y="362"/><use href="#R" x="1160" y="362"/><use href="#R" x="1240" y="362"/><use href="#R" x="1320" y="362"/><use href="#U" x="1400" y="362"/><use href="#U" x="1480" y="362"/><use href="#L" x="1560" y="362"/>
<use href="#U" x="40" y="442"/><use href="#U" x="360" y="442"/><use href="#U" x="680" y="442"/><use href="#U" x="1000" y="442"/><use href="#U" x="1320" y="442"/>
<use href="#U" x="40" y="522"/><use href="#R" x="120" y="522"/><use href="#R" x="200" y="522"/><use href="#R" x="280" y="522"/><use href="#U" x="360" y="522"/><use href="#R" x="440" y="522"/><use href="#R" x="520" y="522"/><use href="#R" x="600" y="522"/><use href="#U" x="680" y="522"/><use href="#R" x="760" y="522"/><use href="#R" x="840" y="522"/><use href="#R" x="920" y="522"/><use href="#U" x="1000" y="522"/><use href="#R" x="1080" y="522"/><use href="#R" x="1160" y="522"/><use href="#R" x="1240" y="522"/><use href="#U" x="1320" y="522"/><use href="#L" x="1400" y="522"/><use href="#L" x="1480" y="522"/><use href="#L" x="1560" y="522"/>
<use href="#U" x="40" y="602"/><use href="#R" x="120" y="602"/><use href="#R" x="200" y="602"/><use href="#R" x="280" y="602"/><use href="#R" x="360" y="602"/><use href="#R" x="440" y="602"/><use href="#R" x="520" y="602"/><use href="#R" x="600" y="602"/><use href="#U" x="680" y="602"/><use href="#R" x="760" y="602"/><use href="#R" x="840" y="602"/><use href="#R" x="920" y="602"/><use href="#U" x="1000" y="602"/><use href="#R" x="1080" y="602"/><use href="#R" x="1160" y="602"/><use href="#R" x="1240" y="602"/><use href="#U" x="1320" y="602"/><use href="#L" x="1400" y="602"/><use href="#L" x="1480" y="602"/><use href="#L" x="1560" y="602"/>
<use href="#U" x="280" y="682"/><use href="#U" x="600" y="682"/><use href="#U" x="920" y="682"/><use href="#U" x="1240" y="682"/><use href="#U" x="1560" y="682"/>
<use href="#R" x="40" y="762"/><use href="#R" x="120" y="762"/><use href="#R" x="200" y="762"/><use href="#U" x="280" y="762"/><use href="#R" x="360" y="762"/><use href="#R" x="440" y="762"/><use href="#R" x="520" y="762"/><use href="#U" x="600" y="762"/><use href="#R" x="680" y="762"/><use href="#R" x="760" y="762"/><use href="#R" x="840" y="762"/><use href="#U" x="920" y="762"/><use href="#R" x="1000" y="762"/><use href="#R" x="1080" y="762"/><use href="#R" x="1160" y="762"/><use href="#U" x="1240" y="762"/><use href="#L" x="1320" y="762"/><use href="#L" x="1400" y="762"/><use href="#R" x="1480" y="762"/><use href="#U" x="1560" y="762"/>
<use href="#R" x="40" y="842"/><use href="#R" x="120" y="842"/><use href="#R" x="200" y="842"/><use href="#U" x="280" y="842"/><use href="#R" x="360" y="842"/><use href="#R" x="440" y="842"/><use href="#R" x="520" y="842"/><use href="#U" x="600" y="842"/><use href="#R" x="680" y="842"/><use href="#R" x="760" y="842"/><use href="#R" x="840" y="842"/><use href="#U" x="920" y="842"/><use href="#R" x="1000" y="842"/><use href="#R" x="1080" y="842"/><use href="#R" x="1160" y="842"/><use href="#U" x="1240" y="842"/><use href="#L" x="1320" y="842"/><use href="#L" x="1400" y="842"/><use href="#U" x="1480" y="842"/><use href="#U" x="1560" y="842"/>
<use href="#U" x="40" y="922"/><use href="#U" x="360" y="922"/><use href="#U" x="680" y="922"/><use href="#U" x="1000" y="922"/><use href="#U" x="1320" y="922"/>
<use href="#U" x="40" y="1002"/><use href="#R" x="120" y="1002"/><use href="#R" x="200" y="1002"/><use href="#R" x="280" y="1002"/><use href="#U" x="360" y="1002"/><use href="#R" x="440" y="1002"/><use href="#R" x="520" y="1002"/><use href="#R" x="600" y="1002"/><use href="#U" x="680" y="1002"/><use href="#R" x="760" y="1002"/><use href="#R" x="840" y="1002"/><use href="#R" x="920" y="1002"/><use href="#U" x="1000" y="1002"/><use href="#L" x="1080" y="1002"/><use href="#R" x="1160" y="1002"/><use href="#R" x="1240" y="1002"/><use href="#U" x="1320" y="1002"/><use href="#L" x="1400" y="1002"/><use href="#L" x="1480" y="1002"/><use href="#L" x="1560" y="1002"/>
<use href="#U" x="40" y="1082"/><use href="#R" x="120" y="1082"/><use href="#R" x="200" y="1082"/><use href="#R" x="280" y="1082"/><use href="#U" x="360" y="1082"/><use href="#R" x="440" y="1082"/><use href="#R" x="520" y="1082"/><use href="#R" x="600" y="1082"/><use href="#U" x="680" y="1082"/><use href="#R" x="760" y="1082"/><use href="#R" x="840" y="1082"/><use href="#R" x="920" y="1082"/><use href="#U" x="1000" y="1082"/><use href="#U" x="1080" y="1082"/><use href="#R" x="1160" y="1082"/><use href="#R" x="1240" y="1082"/><use href="#U" x="1320" y="1082"/><use href="#L" x="1400" y="1082"/><use href="#L" x="1480" y="1082"/><use href="#L" x="1560" y="1082"/>
<use href="#U" x="40" y="1162"/><use href="#U" x="120" y="1162"/><use href="#U" x="440" y="1162"/><use href="#U" x="760" y="1162"/><use href="#U" x="1080" y="1162"/><use href="#U" x="1400" y="1162"/>
<use href="#U" x="40" y="1242"/><use href="#U" x="120" y="1242"/><use href="#R" x="200" y="1242"/><use href="#R" x="280" y="1242"/><use href="#R" x="360" y="1242"/><use href="#U" x="440" y="1242"/><use href="#R" x="520" y="1242"/><use href="#R" x="600" y="1242"/><use href="#R" x="680" y="1242"/><use href="#U" x="760" y="1242"/><use href="#L" x="840" y="1242"/><use href="#R" x="920" y="1242"/><use href="#R" x="1000" y="1242"/><use href="#U" x="1080" y="1242"/><use href="#L" x="1160" y="1242"/><use href="#R" x="1240" y="1242"/><use href="#R" x="1320" y="1242"/><use href="#U" x="1400" y="1242"/><use href="#L" x="1480" y="1242"/><use href="#L" x="1560" y="1242"/>
<use href="#U" x="40" y="1322"/><use href="#U" x="120" y="1322"/><use href="#R" x="200" y="1322"/><use href="#R" x="280" y="1322"/><use href="#R" x="360" y="1322"/><use href="#U" x="440" y="1322"/><use href="#R" x="520" y="1322"/><use href="#R" x="600" y="1322"/><use href="#R" x="680" y="1322"/><use href="#U" x="760" y="1322"/><use href="#U" x="840" y="1322"/><use href="#R" x="920" y="1322"/><use href="#R" x="1000" y="1322"/><use href="#U" x="1080" y="1322"/><use href="#U" x="1160" y="1322"/><use href="#R" x="1240" y="1322"/><use href="#R" x="1320" y="1322"/><use href="#U" x="1400" y="1322"/><use href="#U" x="1480" y="1322"/><use href="#L" x="1560" y="1322"/>
<use href="#U" x="40" y="1402"/><use href="#U" x="360" y="1402"/><use href="#U" x="680" y="1402"/><use href="#U" x="1000" y="1402"/><use href="#U" x="1320" y="1402"/>
<use href="#U" x="40" y="1482"/><use href="#R" x="120" y="1482"/><use href="#R" x="200" y="1482"/><use href="#R" x="280" y="1482"/><use href="#U" x="360" y="1482"/><use href="#R" x="440" y="1482"/><use href="#R" x="520" y="1482"/><use href="#R" x="600" y="1482"/><use href="#U" x="680" y="1482"/><use href="#L" x="760" y="1482"/><use href="#R" x="840" y="1482"/><use href="#R" x="920" y="1482"/><use href="#U" x="1000" y="1482"/><use href="#L" x="1080" y="1482"/><use href="#R" x="1160" y="1482"/><use href="#R" x="1240" y="1482"/><use href="#U" x="1320" y="1482"/><use href="#L" x="1400" y="1482"/><use href="#L" x="1480" y="1482"/><use href="#L" x="1560" y="1482"/>
<use href="#U" x="40" y="1562"/><use href="#R" x="120" y="1562"/><use href="#R" x="200" y="1562"/><use href="#R" x="280" y="1562"/><use href="#U" x="360" y="1562"/><use href="#R" x="440" y="1562"/><use href="#R" x="520" y="1562"/><use href="#R" x="600" y="1562"/><use href="#U" x="680" y="1562"/><use href="#R" x="760" y="1562"/><use href="#R" x="840" y="1562"/><use href="#R" x="920" y="1562"/><use href="#U" x="1000" y="1562"/><use href="#U" x="1080" y="1562"/><use href="#R" x="1160" y="1562"/><use href="#R" x="1240" y="1562"/><use href="#U" x="1320" y="1562"/><use href="#L" x="1400" y="1562"/><use href="#L" x="1480" y="1562"/><use href="#L" x="1560" y="1562"/>
</g>
</svg>
